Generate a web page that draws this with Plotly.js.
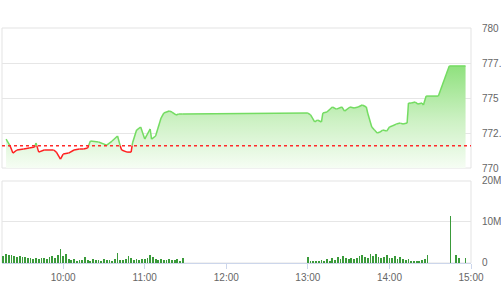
<!DOCTYPE html>
<html>
<head>
<meta charset="utf-8">
<script src="https://cdn.plot.ly/plotly-3.0.1.min.js"></script>
<style>html,body{margin:0;padding:0;background:#fff;}#chart{width:501px;height:300px;}</style>
</head>
<body>
<div id="chart"></div>
<script>
// ---- DATA ----
const refPrice = 771.6;
const priceTimes = ["09:18","09:21","09:23","09:26","09:31","09:35","09:39","09:40","09:42","09:46","09:53","09:55","09:58","10:00","10:04","10:08","10:12","10:15","10:18","10:20","10:26","10:32","10:36","10:40","10:42","10:43","10:47","10:50","10:51","10:54","10:57","11:00","11:04","11:05","11:08","11:12","11:14","11:18","11:20","11:23","11:25","11:28","13:00","13:02","13:05","13:07","13:10","13:11","13:14","13:18","13:21","13:25","13:27","13:31","13:34","13:37","13:40","13:43","13:44","13:47","13:49","13:51","13:53","13:55","13:58","14:00","14:02","14:05","14:08","14:10","14:13","14:14","14:16","14:19","14:21","14:24","14:25","14:27","14:36","14:44","14:56"];
const priceValues = [772.07,771.57,771.07,771.29,771.36,771.43,771.50,771.79,771.14,771.29,771.29,771.14,770.64,771.00,771.07,771.29,771.36,771.36,771.43,771.93,771.86,771.64,771.93,772.29,771.57,771.29,771.14,771.14,771.79,772.71,772.93,772.07,772.79,772.07,772.29,773.57,773.93,774.07,774.00,773.79,773.86,773.86,773.93,773.79,773.29,773.43,773.29,773.93,774.00,774.36,774.21,774.36,774.07,774.36,774.29,774.36,774.50,774.36,773.93,772.93,772.71,772.50,772.57,772.71,772.64,772.93,773.00,773.14,773.21,773.14,773.21,774.64,774.64,774.71,774.57,774.64,774.50,775.14,775.14,777.29,777.29];

const volTimes = ["09:16","09:18","09:20","09:22","09:24","09:26","09:28","09:30","09:32","09:34","09:36","09:38","09:40","09:42","09:44","09:46","09:48","09:50","09:52","09:54","09:56","09:58","10:00","10:02","10:04","10:06","10:08","10:10","10:12","10:14","10:16","10:18","10:20","10:22","10:24","10:26","10:28","10:30","10:32","10:34","10:36","10:38","10:40","10:42","10:44","10:46","10:48","10:50","10:52","10:54","10:56","10:58","11:00","11:02","11:04","11:06","11:08","11:10","11:12","11:14","11:16","11:18","11:20","11:22","11:24","11:26","11:28",
"13:00","13:02","13:04","13:06","13:08","13:10","13:12","13:14","13:16","13:18","13:20","13:22","13:24","13:26","13:28","13:30","13:32","13:34","13:36","13:38","13:40","13:42","13:44","13:46","13:48","13:50","13:52","13:54","13:56","13:58","14:00","14:02","14:04","14:06","14:08","14:10","14:12","14:14","14:16","14:18","14:20","14:22","14:24","14:26","14:28","14:45","14:49","14:51","14:56"];
const volValues = [1.8,2.1,1.9,2.0,1.7,1.5,1.6,1.4,1.5,1.2,1.3,1.0,1.2,0.9,1.1,1.3,1.0,1.4,1.6,1.3,1.9,3.4,1.8,2.3,0.9,0.7,0.9,0.6,0.8,0.7,1.5,0.8,0.6,0.9,0.7,0.8,0.6,0.9,0.7,0.8,0.6,0.9,2.4,0.8,0.7,0.9,1.6,1.1,0.8,0.9,0.7,1.0,0.9,1.2,2.0,1.4,0.9,0.8,0.9,0.7,0.8,0.9,0.7,0.8,1.0,0.6,1.1,
1.5,0.5,0.4,0.6,0.5,0.7,0.5,0.9,0.6,1.1,0.8,1.4,1.0,1.6,1.2,0.9,1.1,1.0,1.3,1.8,2.0,1.5,1.3,2.2,1.7,2.1,1.4,1.2,1.5,1.9,1.3,1.1,1.6,1.0,1.4,0.9,0.7,1.0,0.6,0.5,0.6,0.4,0.7,0.9,2.0,11.5,2.0,1.2,1.3];

const xTickTimes = ["10:00","11:00","12:00","13:00","14:00","15:00"];
const priceTicks = [770,772.5,775,777.5,780];
const volTicks = [0,10,20];
const volTickText = ["0","10M","20M"];

// ---- helpers ----
function toMin(s){const p=s.split(":");return (+p[0])*60+(+p[1]);}
const px = priceTimes.map(toMin);
const vx = volTimes.map(toMin);

// split line into above/below reference segments
const gx=[],gy=[],rx=[],ry=[];
function push(arrx,arry,x,y){arrx.push(x);arry.push(y);}
for(let i=0;i<px.length-1;i++){
  const x0=px[i],y0=priceValues[i],x1=px[i+1],y1=priceValues[i+1];
  const a0=y0>=refPrice,a1=y1>=refPrice;
  if(a0===a1){
    if(a0){push(gx,gy,x0,y0);push(gx,gy,x1,y1);push(gx,gy,null,null);}
    else {push(rx,ry,x0,y0);push(rx,ry,x1,y1);push(rx,ry,null,null);}
  } else {
    const xc=x0+(refPrice-y0)/(y1-y0)*(x1-x0);
    if(a0){push(gx,gy,x0,y0);push(gx,gy,xc,refPrice);push(gx,gy,null,null);
           push(rx,ry,xc,refPrice);push(rx,ry,x1,y1);push(rx,ry,null,null);}
    else {push(rx,ry,x0,y0);push(rx,ry,xc,refPrice);push(rx,ry,null,null);
          push(gx,gy,xc,refPrice);push(gx,gy,x1,y1);push(gx,gy,null,null);}
  }
}

const font = {family:'"Liberation Sans", Arial, sans-serif', size:10, color:'#666666'};

const traces = [
  {x:px, y:priceValues, type:'scatter', mode:'lines', line:{width:0,color:'rgba(0,0,0,0)'},
   fill:'tozeroy',
   fillgradient:{type:'vertical', start:770, stop:777.5,
     colorscale:[[0,'rgba(246,253,244,1)'],[0.45,'rgba(205,241,196,1)'],[1,'rgba(140,224,122,1)']]},
   hoverinfo:'skip', xaxis:'x', yaxis:'y'},
  {x:gx, y:gy, type:'scatter', mode:'lines', line:{width:1.5,color:'#74dc62'}, connectgaps:false, xaxis:'x', yaxis:'y'},
  {x:rx, y:ry, type:'scatter', mode:'lines', line:{width:1.5,color:'#ff2020'}, connectgaps:false, xaxis:'x', yaxis:'y'},
  {x:vx, y:volValues, type:'bar', width:1.3, marker:{color:'#3a9a3a', line:{width:0}}, xaxis:'x', yaxis:'y2'}
];

const layout = {
  width:501, height:300,
  margin:{l:2, r:30, t:28, b:37},
  paper_bgcolor:'#ffffff', plot_bgcolor:'#ffffff',
  showlegend:false, font:font, bargap:0,
  xaxis:{range:[555,900], anchor:'y2', tickvals:xTickTimes.map(toMin), ticktext:xTickTimes,
         ticks:'outside', ticklen:5, tickcolor:'#ccd6eb', showline:true, linecolor:'#ccd6eb', linewidth:1,
         showgrid:false, zeroline:false, tickfont:font, fixedrange:true},
  yaxis:{domain:[0.404,1], range:[770,780], side:'right', tickvals:priceTicks, ticktext:priceTicks.map(String),
         showgrid:true, gridcolor:'#e6e6e6', zeroline:false, ticks:'', ticklabelstandoff:10, tickfont:font},
  yaxis2:{domain:[0,0.349], range:[0,20], side:'right', tickvals:volTicks, ticktext:volTickText,
          showgrid:true, gridcolor:'#e6e6e6', zeroline:false, ticks:'', ticklabelstandoff:10, tickfont:font},
  shapes:[
    {type:'rect', xref:'paper', yref:'y domain', x0:0, x1:1, y0:0, y1:1, line:{color:'#e3e3e3', width:1}, layer:'below'},
    {type:'rect', xref:'paper', yref:'y2 domain', x0:0, x1:1, y0:0, y1:1, line:{color:'#e3e3e3', width:1}, layer:'below'},
    {type:'line', xref:'paper', yref:'y', x0:0, x1:1, y0:refPrice, y1:refPrice, line:{color:'#ff2a2a', width:1.5, dash:'dot'}}
  ]
};

Plotly.newPlot('chart', traces, layout, {staticPlot:true, displayModeBar:false});
</script>
</body>
</html>
